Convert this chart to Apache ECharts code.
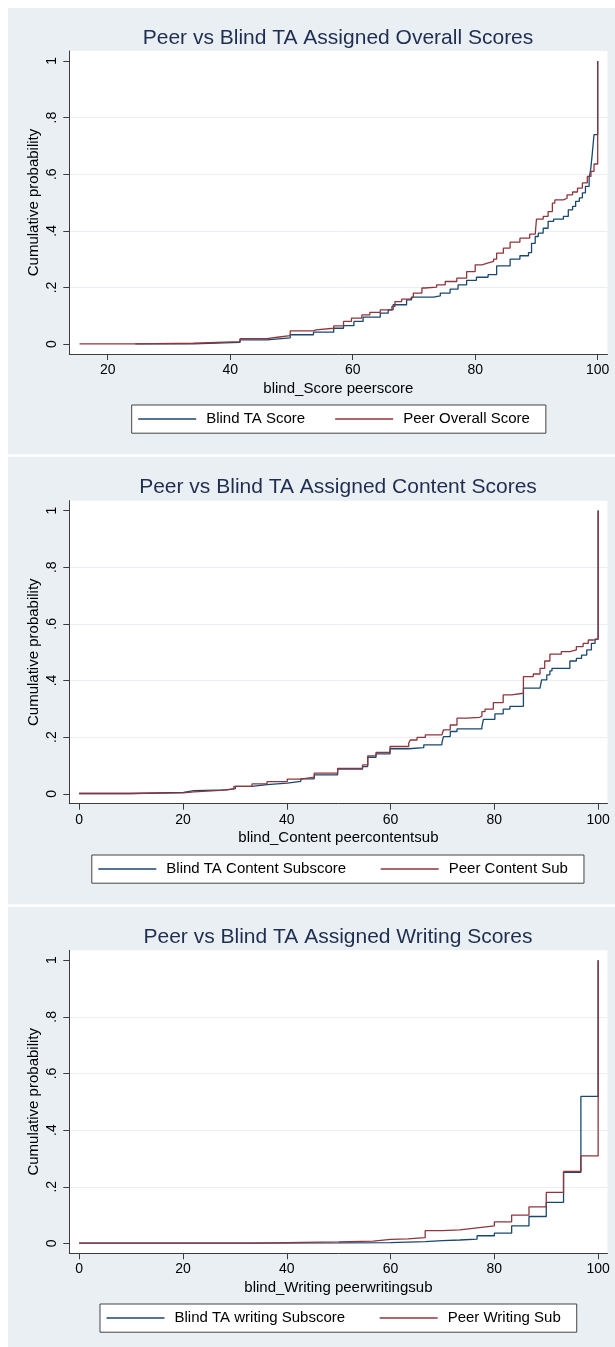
<!DOCTYPE html>
<html>
<head>
<meta charset="utf-8">
<script src="https://cdn.jsdelivr.net/npm/echarts@6/dist/echarts.min.js"></script>
<style>
html,body{margin:0;padding:0;background:#fff;overflow:hidden}
#c{width:615px;height:1347px}
</style>
</head>
<body>
<div id="c"></div>
<script>
// ---------- data ----------
const titles = [
  'Peer vs Blind TA Assigned Overall Scores',
  'Peer vs Blind TA Assigned Content Scores',
  'Peer vs Blind TA Assigned Writing Scores'
];
const xTitles = ['blind_Score peerscore', 'blind_Content peercontentsub', 'blind_Writing peerwritingsub'];
const yTitle = 'Cumulative probability';
const seriesNames = [
  ['Blind TA Score', 'Peer Overall Score'],
  ['Blind TA Content Subscore', 'Peer Content Sub'],
  ['Blind TA writing Subscore', 'Peer Writing Sub']
];
const overallTicks = [20, 40, 60, 80, 100];
const subTicks = [0, 20, 40, 60, 80, 100];
const yTicks = [0, 0.2, 0.4, 0.6, 0.8, 1];
const yTickLabels = ['0', '.2', '.4', '.6', '.8', '1'];

const blindScore = [[24.5,0.001],[34.0,0.006],[41.6,0.015],[46.0,0.022],[49.8,0.033],[53.6,0.042],[56.9,0.056],[58.5,0.065],[60.2,0.08],[61.7,0.095],[64.5,0.109],[65.8,0.121],[66.6,0.139],[68.8,0.156],[69.6,0.166],[73.2,0.17],[74.3,0.18],[75.9,0.194],[77.2,0.209],[78.6,0.225],[80.2,0.236],[82.1,0.245],[83.5,0.276],[85.7,0.3],[87.3,0.312],[88.7,0.323],[89.2,0.356],[89.8,0.38],[90.3,0.392],[91.1,0.409],[91.9,0.433],[92.8,0.441],[94.4,0.451],[95.2,0.474],[95.9,0.486],[96.4,0.504],[97.0,0.516],[97.5,0.534],[98.0,0.557],[98.6,0.587],[98.85,0.616],[99.1,0.669],[99.4,0.74],[100,1]];
const peerOverall = [[15.4,0.001],[24.7,0.003],[34.0,0.009],[41.6,0.019],[46.0,0.025],[48.0,0.03],[49.8,0.047],[53.6,0.05],[54.0,0.056],[56.9,0.064],[58.5,0.08],[59.8,0.092],[61.5,0.103],[62.8,0.112],[64.5,0.121],[66.4,0.133],[66.9,0.15],[68.0,0.159],[69.35,0.166],[69.9,0.18],[71.3,0.198],[71.8,0.201],[73.7,0.209],[75.1,0.221],[77.0,0.233],[78.6,0.256],[80.0,0.28],[81.1,0.286],[82.0,0.292],[83.0,0.3],[83.5,0.321],[84.6,0.339],[85.7,0.36],[87.3,0.374],[88.9,0.388],[89.8,0.394],[90.0,0.441],[91.1,0.451],[91.9,0.468],[92.6,0.498],[93.0,0.509],[94.4,0.515],[95.0,0.527],[95.9,0.537],[96.7,0.551],[97.5,0.569],[98.3,0.592],[98.9,0.61],[99.4,0.636],[100,1]];

const blindContent = [[0,0.001],[9.8,0.005],[20.1,0.011],[22.1,0.014],[28.5,0.018],[30.1,0.026],[33.3,0.032],[36.2,0.038],[40.1,0.044],[42.7,0.053],[45.3,0.067],[49.8,0.087],[54.6,0.096],[55.6,0.129],[57.2,0.141],[59.9,0.159],[63.5,0.163],[66.4,0.173],[69.9,0.181],[70.2,0.202],[71.5,0.22],[72.8,0.229],[77.6,0.237],[77.9,0.263],[80.1,0.282],[81.7,0.299],[83.0,0.309],[85.6,0.373],[88.8,0.379],[89.1,0.402],[90.1,0.42],[90.7,0.434],[91.1,0.443],[94.55,0.469],[95.8,0.478],[96.8,0.49],[97.8,0.508],[98.7,0.531],[99.4,0.546],[100,1]];
const peerContent = [[0,0.001],[9.8,0.003],[20.1,0.007],[22.1,0.012],[27.2,0.017],[29.8,0.026],[33.3,0.035],[36.2,0.043],[40.1,0.052],[42.7,0.059],[45.3,0.073],[49.8,0.09],[54.6,0.102],[55.6,0.134],[57.2,0.146],[59.9,0.167],[63.5,0.179],[63.8,0.19],[65.1,0.199],[66.7,0.208],[69.9,0.214],[70.2,0.226],[71.5,0.243],[72.8,0.267],[74.7,0.27],[77.2,0.275],[77.6,0.29],[78.2,0.299],[79.8,0.322],[81.7,0.349],[83.3,0.355],[85.6,0.414],[87.5,0.423],[88.8,0.443],[89.7,0.469],[90.7,0.493],[92.9,0.502],[94.55,0.508],[95.8,0.52],[97.1,0.531],[98.1,0.543],[99.0,0.546],[100,1]];

const blindWriting = [[0,0.001],[33.33,0.002],[50,0.003],[60,0.006],[66.67,0.01],[70,0.012],[73.33,0.015],[76.67,0.027],[80,0.036],[83.33,0.062],[86.67,0.095],[90,0.145],[93.33,0.251],[96.67,0.519],[100,1]];
const peerWriting = [[0,0.001],[33.33,0.005],[50,0.008],[56.67,0.014],[60,0.016],[63.33,0.02],[66.67,0.045],[70,0.048],[73.33,0.055],[76.67,0.062],[80,0.076],[83.33,0.1],[86.67,0.129],[90,0.18],[93.33,0.254],[96.67,0.309],[100,1]];

const panelData = [[blindScore, peerOverall], [blindContent, peerContent], [blindWriting, peerWriting]];
const panelXTicks = [overallTicks, subTicks, subTicks];

// ---------- layout / style ----------
const FONT = '"Liberation Sans", Arial, Helvetica, sans-serif';
const NAVY = '#1a476f';
const MAROON = '#90353b';
const BG = '#e9eff3';
const AXIS = '#3c3c3c';
const layout = [
  { bgTop: 8,     bgH: 446.3, titleTop: 23,    gridTop: 51,    legendLeft: 131.7, legendTop: 405,  gap: 30,   xMin: 13.73, xMax: 101.6 },
  { bgTop: 456.7, bgH: 447.6, titleTop: 471.7, gridTop: 500.7, legendLeft: 91.8,  legendTop: 855,  gap: 34.6, xMin: -1.9,  xMax: 101.8 },
  { bgTop: 907,   bgH: 440,   titleTop: 922,   gridTop: 950.3, legendLeft: 100,   legendTop: 1304, gap: 34.5, xMin: -1.9,  xMax: 101.8 }
];
const GRID_LEFT = 69.3, GRID_W = 538.2, GRID_H = 303;

function yLabel(v) {
  let best = 0;
  for (let i = 0; i < yTicks.length; i++) if (Math.abs(yTicks[i] - v) < Math.abs(yTicks[best] - v)) best = i;
  return yTickLabels[best];
}

const option = {
  backgroundColor: '#fff',
  animation: false,
  textStyle: { fontFamily: FONT },
  graphic: layout.map(l => ({
    type: 'rect', z: -10, silent: true,
    shape: { x: 8, y: l.bgTop, width: 620, height: l.bgH },
    style: { fill: BG }
  })),
  title: layout.map((l, i) => ({
    text: titles[i], left: 333, top: l.titleTop, textAlign: 'center',
    textStyle: { fontFamily: FONT, fontSize: 21, fontWeight: 'normal', color: '#1f2d50' }
  })),
  grid: layout.map(l => ({
    left: GRID_LEFT, top: l.gridTop, width: GRID_W, height: GRID_H,
    show: true, backgroundColor: '#fff', borderWidth: 0, containLabel: false
  })),
  xAxis: layout.map((l, i) => ({
    type: 'value', gridIndex: i, min: l.xMin, max: l.xMax,
    name: xTitles[i], nameLocation: 'middle', nameGap: 27, nameMoveOverlap: false,
    nameTextStyle: { fontFamily: FONT, fontSize: 15, color: '#000' },
    axisLine: { show: true, onZero: false, lineStyle: { color: AXIS, width: 1 } },
    axisTick: { show: true, length: 6, customValues: panelXTicks[i], lineStyle: { color: AXIS } },
    axisLabel: { customValues: panelXTicks[i], margin: 9, fontSize: 14, color: '#000', fontFamily: FONT },
    splitLine: { show: false }
  })),
  yAxis: layout.map((l, i) => ({
    type: 'value', gridIndex: i, min: -0.035, max: 1.035,
    name: yTitle, nameLocation: 'middle', nameGap: 28, nameRotate: 90, nameMoveOverlap: false,
    nameTextStyle: { fontFamily: FONT, fontSize: 15, color: '#000' },
    axisLine: { show: true, onZero: false, lineStyle: { color: AXIS, width: 1 } },
    axisTick: { show: true, length: 6, customValues: yTicks, lineStyle: { color: AXIS } },
    axisLabel: { customValues: yTicks, rotate: 90, margin: 10, fontSize: 14, color: '#000', fontFamily: FONT, formatter: yLabel },
    splitLine: { show: true, showMinLine: false, showMaxLine: false, lineStyle: { color: '#e8eef1', width: 1 } }
  })),
  legend: layout.map((l, i) => ({
    data: seriesNames[i], left: l.legendLeft, top: l.legendTop,
    orient: 'horizontal', icon: 'rect', itemWidth: 58, itemHeight: 1.5, itemGap: l.gap,
    padding: [5.6, 16, 5.6, 6.5], borderColor: '#444', borderWidth: 1, backgroundColor: '#fff',
    selectedMode: false,
    textStyle: { fontFamily: FONT, fontSize: 15, color: '#000', lineHeight: 17, padding: [0, 0, 0, 5] }
  })),
  series: []
};

panelData.forEach((pair, i) => {
  [NAVY, MAROON].forEach((col, k) => {
    option.series.push({
      type: 'line', name: seriesNames[i][k], xAxisIndex: i, yAxisIndex: i,
      data: pair[k], step: 'end', symbol: 'none', showSymbol: false,
      lineStyle: { color: col, width: 1.3 }, itemStyle: { color: col },
      emphasis: { disabled: true }, z: 3 + k
    });
  });
});

const chart = echarts.init(document.getElementById('c'), null, { renderer: 'canvas' });
chart.setOption(option);
</script>
</body>
</html>
